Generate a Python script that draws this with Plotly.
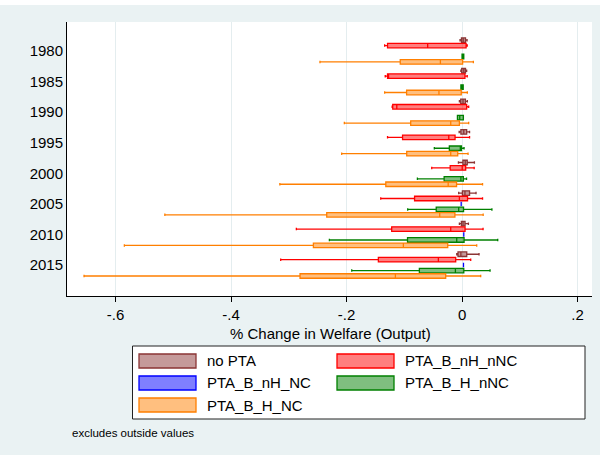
import plotly.graph_objects as go

years = ['1980', '1985', '1990', '1995', '2000', '2005', '2010', '2015']

# no PTA
nopta_lf  = [-0.0035, -0.002, -0.0046, -0.005, -0.0063, -0.0058, -0.0046, -0.0092]
nopta_q1  = [-0.001, -0.0006, -0.0023, -0.002, 0.0015, 0.0006, -0.0012, -0.007]
nopta_med = [0.002, 0.003, 0.0017, 0.003, 0.0055, 0.005, 0.0017, -0.002]
nopta_q3  = [0.006, 0.006, 0.0058, 0.008, 0.009, 0.013, 0.0052, 0.0081]
nopta_uf  = [0.0087, 0.008, 0.0092, 0.013, 0.0214, 0.0242, 0.011, 0.0294]

# PTA_B_nH_nNC
red_lf  = [-0.134, -0.133, -0.121, -0.129, -0.0525, -0.1408, -0.2869, -0.314]
red_q1  = [-0.129, -0.129, -0.120, -0.103, -0.0205, -0.0822, -0.1218, -0.1449]
red_med = [-0.0595, -0.1275, -0.113, -0.023, 0.0003, -0.0046, -0.0196, -0.041]
red_q3  = [0.007, 0.005, 0.008, -0.0121, 0.0063, 0.0095, 0.0052, -0.011]
red_uf  = [0.009, 0.009, 0.0115, 0.013, 0.021, 0.0355, 0.0364, 0.015]

# PTA_B_nH_NC (only visible in later years)
blue_years = ['2005', '2010', '2015']
blue_val   = [-0.0015, 0.003, 0.0025]

# PTA_B_H_nNC
green_lf  = [0.0, -0.002, -0.008, -0.048, -0.0773, -0.0941, -0.2297, -0.191]
green_q1  = [0.0, -0.002, -0.008, -0.022, -0.031, -0.0447, -0.0944, -0.0739]
green_med = [0.0015, 0.0, -0.004, -0.003, -0.002, -0.0058, -0.0092, -0.0115]
green_q3  = [0.003, 0.002, 0.0023, -0.001, 0.0023, 0.0026, 0.0035, 0.003]
green_uf  = [0.003, 0.002, 0.0023, 0.0035, 0.0078, 0.0517, 0.0618, 0.0485]

# PTA_B_H_NC
orange_lf  = [-0.246, -0.134, -0.2038, -0.2084, -0.3155, -0.5146, -0.5847, -0.6545]
orange_q1  = [-0.107, -0.096, -0.0889, -0.0958, -0.132, -0.2343, -0.2574, -0.2805]
orange_med = [-0.0375, -0.040, -0.0196, -0.0196, -0.024, -0.0387, -0.1016, -0.1154]
orange_q3  = [0.001, -0.0014, -0.0046, -0.0075, -0.0095, -0.0124, -0.0248, -0.0283]
orange_uf  = [0.0196, 0.0092, 0.0115, 0.0104, 0.0355, 0.0366, 0.0254, 0.0323]

series_names = ['no PTA', 'PTA_B_nH_nNC', 'PTA_B_nH_NC', 'PTA_B_H_nNC', 'PTA_B_H_NC']
line_colors = ['#8B3535', '#FF0000', '#0000FF', '#008000', '#FF7F00']
fill_colors = ['rgba(139,53,53,0.5)', 'rgba(255,0,0,0.5)', 'rgba(0,0,255,0.5)',
               'rgba(0,128,0,0.5)', 'rgba(255,127,0,0.5)']

xtick_vals = [-0.6, -0.4, -0.2, 0, 0.2]
xtick_text = ['-.6', '-.4', '-.2', '0', '.2']

FONT = 'Liberation Sans, Arial, sans-serif'

fig = go.Figure()

def add_box(i, ys, lf, q1, med, q3, uf):
    fig.add_trace(go.Box(
        y=ys, orientation='h', name=series_names[i],
        q1=q1, median=med, q3=q3, lowerfence=lf, upperfence=uf,
        line=dict(color=line_colors[i], width=1.3),
        fillcolor=fill_colors[i], whiskerwidth=0.55,
        boxpoints=False, showlegend=False,
    ))

add_box(0, years, nopta_lf, nopta_q1, nopta_med, nopta_q3, nopta_uf)
add_box(1, years, red_lf, red_q1, red_med, red_q3, red_uf)
add_box(2, blue_years, blue_val, blue_val, blue_val, blue_val, blue_val)
add_box(3, years, green_lf, green_q1, green_med, green_q3, green_uf)
add_box(4, years, orange_lf, orange_q1, orange_med, orange_q3, orange_uf)

# plot area in pixels
L, R, T, B = 67, 592, 22, 296
W, H = 600, 455
def px(x):
    return (x - L) / (R - L)
def py(y):
    return (B - y) / (B - T)

shapes = []
annotations = []

# white strip at the very top (cropped image edge)
shapes.append(dict(type='rect', xref='paper', yref='paper', x0=px(0), x1=px(W),
                   y0=py(5), y1=py(0), fillcolor='white', line=dict(width=0), layer='above'))

# legend box
shapes.append(dict(type='rect', xref='paper', yref='paper', x0=px(132.5), x1=px(585),
                   y0=py(419), y1=py(346), fillcolor='white',
                   line=dict(color='#222222', width=1)))
leg_pos = [(139, 354), (337, 354), (139, 376), (337, 376), (139, 398)]
for i, (lx, ly) in enumerate(leg_pos):
    shapes.append(dict(type='rect', xref='paper', yref='paper', x0=px(lx), x1=px(lx + 57),
                       y0=py(ly + 14), y1=py(ly), fillcolor=fill_colors[i],
                       line=dict(color=line_colors[i], width=1.3)))
    annotations.append(dict(xref='paper', yref='paper', x=px(lx + 66), y=py(ly + 7),
                            text=series_names[i], showarrow=False, xanchor='left',
                            yanchor='middle', font=dict(family=FONT, size=15, color='black')))

# x-axis title
annotations.append(dict(xref='paper', yref='paper', x=px(330), y=py(333),
                        text='% Change in Welfare (Output)', showarrow=False,
                        xanchor='center', yanchor='middle',
                        font=dict(family=FONT, size=15, color='black')))
# note
annotations.append(dict(xref='paper', yref='paper', x=px(70), y=py(433),
                        text='excludes outside values', showarrow=False,
                        xanchor='left', yanchor='middle',
                        font=dict(family=FONT, size=11.5, color='black')))

fig.update_layout(
    width=W, height=H,
    margin=dict(l=L, r=W - R, t=T, b=H - B, pad=0),
    paper_bgcolor='#EAF2F3', plot_bgcolor='white',
    boxmode='group', boxgap=0.11, boxgroupgap=0.17,
    font=dict(family=FONT, size=15, color='black'),
    shapes=shapes, annotations=annotations,
    showlegend=False,
)
fig.update_xaxes(
    range=[-0.684, 0.225], tickvals=xtick_vals, ticktext=xtick_text,
    showgrid=True, gridcolor='#E4EDEF', gridwidth=1.2, zeroline=False,
    showline=True, linecolor='black', linewidth=1,
    ticks='outside', ticklen=5, tickcolor='black', tickwidth=1,
    tickfont=dict(family=FONT, size=15, color='black'),
)
fig.update_yaxes(
    type='category', categoryorder='array', categoryarray=years,
    range=[8.01, -0.95], showgrid=False, zeroline=False,
    showline=True, linecolor='black', linewidth=1, ticks='',
    tickfont=dict(family=FONT, size=15, color='black'),
)

fig.write_html('out.html', config={'displayModeBar': False},
               post_script="document.body.style.margin='0';document.body.style.padding='0';")
